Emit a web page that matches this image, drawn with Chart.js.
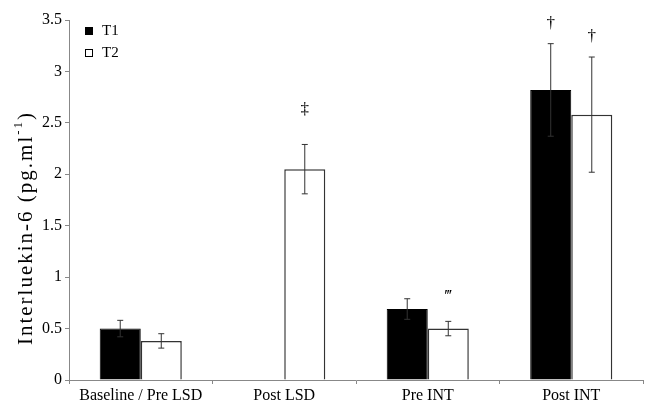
<!DOCTYPE html>
<html>
<head>
<meta charset="utf-8">
<script src="https://cdn.jsdelivr.net/npm/chart.js@4.4.0/dist/chart.umd.min.js"></script>
<style>
  html, body { margin: 0; padding: 0; background: #fff; }
  #wrap { width: 645px; height: 405px; }
</style>
</head>
<body>
<div id="wrap"><canvas id="chart1"></canvas></div>
<script>
const categories = ["Baseline / Pre LSD", "Post LSD", "Pre INT", "Post INT"];
const t1Values = [0.50, null, 0.69, 2.82];
const t1Errors = [0.08, null, 0.10, 0.45];
const t2Values = [0.38, 2.05, 0.50, 2.58];
const t2Errors = [0.07, 0.24, 0.07, 0.56];
const t1Marks = ["", "", "", "\u2020"];
const t2Marks = ["", "\u2021", "\u2034", "\u2020"];
const yTicks = [0, 0.5, 1, 1.5, 2, 2.5, 3, 3.5];

const serif = "'Liberation Serif', 'Times New Roman', serif";
// gap between error bar cap and the symbol baseline
const markGap = { "\u2020": 16, "\u2021": 30, "\u2034": 20 };

// error bars + significance marks drawn on top of the bars
const errorBars = {
    id: 'errorBars',
    afterDatasetsDraw(chart) {
        const { ctx, scales: { y } } = chart;
        const errs = [t1Errors, t2Errors];
        const marks = [t1Marks, t2Marks];
        ctx.save();
        chart.data.datasets.forEach((ds, i) => {
            const meta = chart.getDatasetMeta(i);
            meta.data.forEach((bar, j) => {
                const v = ds.data[j];
                const e = errs[i][j];
                if (v == null || e == null) return;
                const x = bar.x;
                const yTop = y.getPixelForValue(v + e);
                const yLow = y.getPixelForValue(v - e);
                ctx.strokeStyle = '#333';
                ctx.lineWidth = 1;
                ctx.beginPath();
                ctx.moveTo(x, yTop); ctx.lineTo(x, yLow);
                ctx.moveTo(x - 3, yTop); ctx.lineTo(x + 3, yTop);
                ctx.moveTo(x - 3, yLow); ctx.lineTo(x + 3, yLow);
                ctx.stroke();
                const m = marks[i][j];
                if (m) {
                    ctx.fillStyle = '#000';
                    ctx.font = "17px " + serif;
                    ctx.textAlign = 'center';
                    ctx.textBaseline = 'alphabetic';
                    ctx.fillText(m, x, yTop - markGap[m]);
                }
            });
        });
        ctx.restore();
    }
};

// y axis title with superscript, and the small legend in the corner
const extras = {
    id: 'extras',
    afterDraw(chart) {
        const { ctx } = chart;
        ctx.save();
        ctx.translate(26, 228);
        ctx.rotate(-Math.PI / 2);
        ctx.fillStyle = '#000';
        ctx.textBaseline = 'middle';
        ctx.letterSpacing = '2px';
        const main = "Interluekin-6 (pg.ml";
        const sup = "-1";
        const end = ")";
        ctx.font = "21px " + serif;
        const w1 = ctx.measureText(main).width;
        const w3 = ctx.measureText(end).width;
        ctx.font = "13px " + serif;
        const w2 = ctx.measureText(sup).width;
        let x = -(w1 + w2 + w3) / 2;
        ctx.textAlign = 'left';
        ctx.font = "21px " + serif;
        ctx.fillText(main, x, 0);
        x += w1;
        ctx.font = "13px " + serif;
        ctx.fillText(sup, x, -7);
        x += w2;
        ctx.font = "21px " + serif;
        ctx.fillText(end, x, 0);
        ctx.restore();

        // legend
        ctx.save();
        chart.data.datasets.forEach((ds, i) => {
            const ly = 27 + i * 22;
            ctx.fillStyle = ds.backgroundColor;
            ctx.fillRect(85, ly, 7, 7);
            ctx.strokeStyle = '#000';
            ctx.lineWidth = 1;
            ctx.strokeRect(85.5, ly + 0.5, 7, 7);
            ctx.fillStyle = '#000';
            ctx.font = "15px " + serif;
            ctx.textBaseline = 'middle';
            ctx.textAlign = 'left';
            ctx.fillText(ds.label, 102, ly + 4);
        });
        ctx.restore();
    }
};

new Chart(document.getElementById('chart1').getContext('2d'), {
    type: 'bar',
    data: {
        labels: categories,
        datasets: [
            {
                label: 'T1',
                data: t1Values,
                backgroundColor: '#000',
                borderColor: '#000',
                borderWidth: 1,
                categoryPercentage: 0.572,
                barPercentage: 1.0,
            },
            {
                label: 'T2',
                data: t2Values,
                backgroundColor: '#fff',
                borderColor: '#333',
                borderWidth: 1.5,
                categoryPercentage: 0.572,
                barPercentage: 1.0,
            }
        ]
    },
    options: {
        responsive: true,
        maintainAspectRatio: false,
        animation: false,
        layout: { padding: { left: 0, right: 2, top: 20, bottom: 0 } },
        plugins: {
            legend: { display: false },
            tooltip: { enabled: false }
        },
        scales: {
            x: {
                grid: { display: true, drawOnChartArea: false, offset: true, tickLength: 4, color: '#888' },
                border: { color: '#888', width: 1 },
                ticks: {
                    color: '#000',
                    padding: 2,
                    font: { family: serif, size: 16 }
                },
                afterFit: (s) => { s.height = 25; }
            },
            y: {
                min: 0,
                max: 3.5,
                afterBuildTicks: (s) => { s.ticks = yTicks.map(v => ({ value: v })); },
                grid: { display: true, drawOnChartArea: false, tickLength: 4, color: '#888' },
                border: { color: '#888', width: 1 },
                ticks: {
                    color: '#000',
                    padding: 3,
                    font: { family: serif, size: 16 },
                    callback: (v) => String(v)
                },
                afterFit: (s) => { s.width = 69; }
            }
        }
    },
    plugins: [errorBars, extras]
});
</script>
</body>
</html>
